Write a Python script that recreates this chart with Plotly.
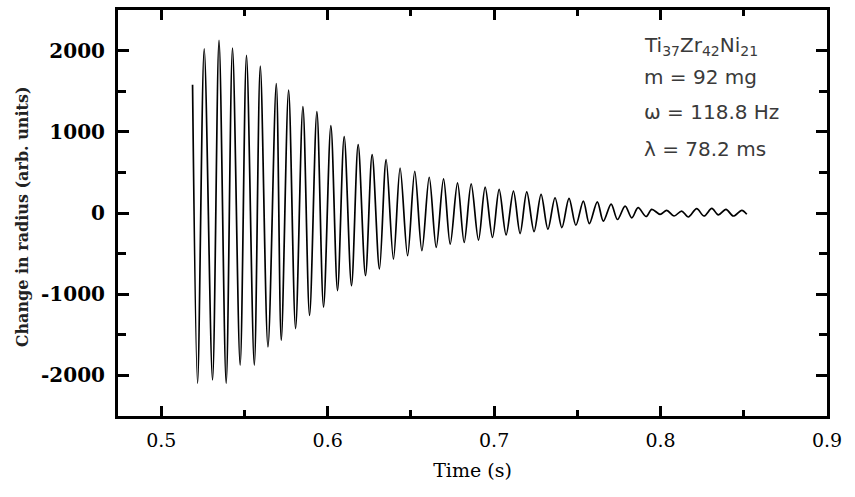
import plotly.graph_objects as go

# Peak/trough readings of the recorded signal (time in s, signal in arb. units)
time_s = [
    0.5188, 0.5218, 0.5258, 0.5308, 0.5347, 0.5390, 0.5428, 0.5474, 0.5512, 0.5559,
    0.5595, 0.5641, 0.5691, 0.5721, 0.5765, 0.5807, 0.5851, 0.5891, 0.5935, 0.5975,
    0.6019, 0.6059, 0.6099, 0.6143, 0.6183, 0.6227, 0.6267, 0.6311, 0.6351, 0.6395,
    0.6435, 0.6480, 0.6523, 0.6566, 0.6610, 0.6652, 0.6696, 0.6736, 0.6780, 0.6820,
    0.6862, 0.6906, 0.6946, 0.6990, 0.7030, 0.7072, 0.7116, 0.7156, 0.7196, 0.7240,
    0.7282, 0.7323, 0.7366, 0.7407, 0.7450, 0.7491, 0.7536, 0.7572, 0.7620, 0.7656,
    0.7703, 0.7741, 0.7787, 0.7827, 0.7865, 0.7913, 0.7947, 0.7997, 0.8037, 0.8081,
    0.8127, 0.8167, 0.8217, 0.8261, 0.8308, 0.8347, 0.8393, 0.8437, 0.8488, 0.8518,
]
signal = [
    1579, -2097, 2023, -2056, 2126, -2097, 2032, -1873, 1942, -1873,
    1808, -1649, 1595, -1567, 1514, -1424, 1310, -1261, 1249, -1159,
    1077, -955, 942, -894, 841, -771, 718, -689, 657, -567,
    554, -526, 514, -465, 440, -424, 420, -383, 371, -363,
    359, -334, 318, -302, 290, -269, 269, -253, 261, -229,
    229, -200, 188, -180, 180, -151, 147, -131, 138, -100,
    110, -80, 85, -60, 65, -43, 45, -16, 33, -37,
    24, -49, 53, -37, 57, -24, 45, -37, 33, -16,
]

x_ticks = [0.5, 0.6, 0.7, 0.8, 0.9]
x_tick_labels = ["0.5", "0.6", "0.7", "0.8", "0.9"]
y_ticks = [-2000, -1000, 0, 1000, 2000]
y_tick_labels = ["-2000", "-1000", "0", "1000", "2000"]

info_lines = [
    "Ti<sub>37</sub>Zr<sub>42</sub>Ni<sub>21</sub>",
    "m = 92 mg",
    "ω = 118.8 Hz",
    "λ = 78.2 ms",
]
info_y = [2060, 1680, 1250, 790]

fig = go.Figure()
fig.add_trace(go.Scatter(
    x=time_s, y=signal, mode="lines",
    line=dict(color="black", width=1.7, shape="spline", smoothing=0.9),
    showlegend=False, hoverinfo="skip",
))

axis_common = dict(
    showline=True, linecolor="black", linewidth=3, mirror="allticks",
    ticks="inside", tickcolor="black", tickwidth=3,
    showgrid=False, zeroline=False,
)

fig.update_xaxes(
    **axis_common,
    range=[0.474, 0.9], tickvals=x_ticks, ticktext=x_tick_labels, ticklen=10,
    minor=dict(dtick=0.05, tick0=0.5, ticks="inside", ticklen=6, tickwidth=3, tickcolor="black"),
    tickfont=dict(family="DejaVu Serif", size=19, color="black"),
    ticklabelstandoff=5,
    title=dict(text="Time (s)", font=dict(family="DejaVu Serif", size=19, color="black"), standoff=14),
)
fig.update_yaxes(
    **axis_common,
    range=[-2500, 2500], tickvals=y_ticks, ticktext=y_tick_labels, ticklen=11,
    minor=dict(dtick=500, tick0=0, ticks="inside", ticklen=8, tickwidth=3, tickcolor="black"),
    tickfont=dict(family="DejaVu Serif", size=20, color="black", weight="bold"),
    ticklabelstandoff=6,
)

for txt, yv in zip(info_lines, info_y):
    fig.add_annotation(
        x=0.789, y=yv, xref="x", yref="y", text=txt, showarrow=False,
        xanchor="left", yanchor="middle",
        font=dict(family="DejaVu Sans", size=20, color="#3a3a3a"),
    )

fig.add_annotation(
    x=-0.135, y=0.49, xref="paper", yref="paper",
    text="Change in radius (arb. units)", showarrow=False, textangle=-90,
    xanchor="center", yanchor="middle",
    font=dict(family="DejaVu Serif", size=16, color="#222222", weight="bold"),
)

fig.update_layout(
    width=855, height=497,
    margin=dict(l=118, r=28, t=7, b=81),
    paper_bgcolor="white", plot_bgcolor="white",
)

fig.write_html(
    "out.html",
    config={"displayModeBar": False},
    post_script="document.body.style.margin='0';document.body.style.overflow='hidden';",
)
